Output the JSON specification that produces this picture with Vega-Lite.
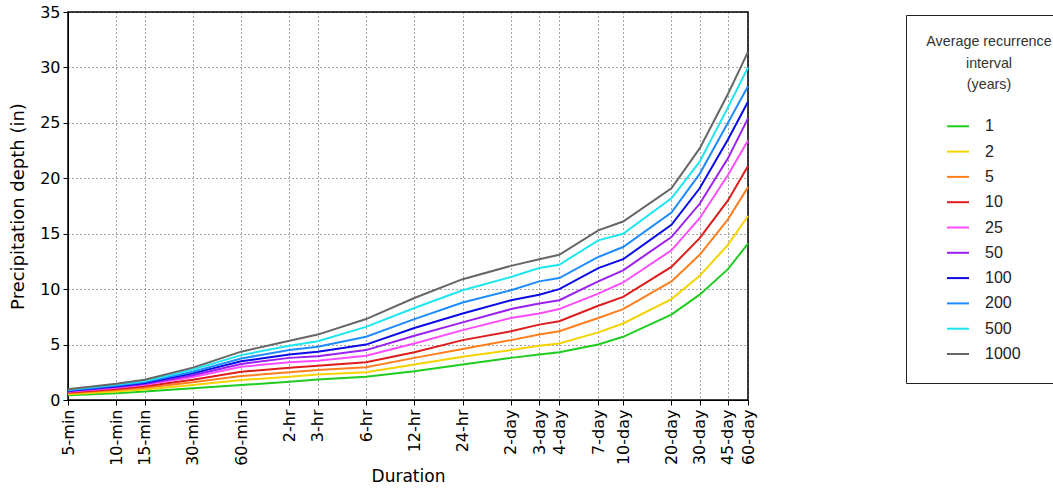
{
  "$schema": "https://vega.github.io/schema/vega-lite/v6.json",
  "width": 680,
  "height": 388,
  "autosize": {"type": "none"},
  "padding": {"left": 68, "top": 12, "right": 305, "bottom": 89},
  "background": "white",
  "config": {
    "view": {"stroke": "#000000", "strokeWidth": 1.5},
    "axis": {
      "labelFont": "DejaVu Sans",
      "titleFont": "DejaVu Sans",
      "labelColor": "#000000",
      "titleColor": "#000000",
      "titleFontWeight": "normal",
      "domainColor": "#000000",
      "tickColor": "#000000",
      "grid": true,
      "gridColor": "#000000",
      "gridDash": [1, 3],
      "gridOpacity": 0.7,
      "gridWidth": 1
    },
    "legend": {
      "labelFont": "Liberation Sans",
      "titleFont": "Liberation Sans"
    }
  },
  "data": {
    "values": [
      {"minutes": 5, "ari": "1", "depth": 0.42}, {"minutes": 5, "ari": "2", "depth": 0.52}, {"minutes": 5, "ari": "5", "depth": 0.60}, {"minutes": 5, "ari": "10", "depth": 0.67}, {"minutes": 5, "ari": "25", "depth": 0.74}, {"minutes": 5, "ari": "50", "depth": 0.78}, {"minutes": 5, "ari": "100", "depth": 0.83}, {"minutes": 5, "ari": "200", "depth": 0.87}, {"minutes": 5, "ari": "500", "depth": 0.93}, {"minutes": 5, "ari": "1000", "depth": 0.98},
      {"minutes": 10, "ari": "1", "depth": 0.62}, {"minutes": 10, "ari": "2", "depth": 0.77}, {"minutes": 10, "ari": "5", "depth": 0.90}, {"minutes": 10, "ari": "10", "depth": 1.00}, {"minutes": 10, "ari": "25", "depth": 1.11}, {"minutes": 10, "ari": "50", "depth": 1.18}, {"minutes": 10, "ari": "100", "depth": 1.25}, {"minutes": 10, "ari": "200", "depth": 1.31}, {"minutes": 10, "ari": "500", "depth": 1.39}, {"minutes": 10, "ari": "1000", "depth": 1.46},
      {"minutes": 15, "ari": "1", "depth": 0.76}, {"minutes": 15, "ari": "2", "depth": 0.95}, {"minutes": 15, "ari": "5", "depth": 1.11}, {"minutes": 15, "ari": "10", "depth": 1.23}, {"minutes": 15, "ari": "25", "depth": 1.37}, {"minutes": 15, "ari": "50", "depth": 1.45}, {"minutes": 15, "ari": "100", "depth": 1.54}, {"minutes": 15, "ari": "200", "depth": 1.62}, {"minutes": 15, "ari": "500", "depth": 1.72}, {"minutes": 15, "ari": "1000", "depth": 1.82},
      {"minutes": 30, "ari": "1", "depth": 1.05}, {"minutes": 30, "ari": "2", "depth": 1.35}, {"minutes": 30, "ari": "5", "depth": 1.60}, {"minutes": 30, "ari": "10", "depth": 1.82}, {"minutes": 30, "ari": "25", "depth": 2.08}, {"minutes": 30, "ari": "50", "depth": 2.23}, {"minutes": 30, "ari": "100", "depth": 2.40}, {"minutes": 30, "ari": "200", "depth": 2.55}, {"minutes": 30, "ari": "500", "depth": 2.75}, {"minutes": 30, "ari": "1000", "depth": 2.92},
      {"minutes": 60, "ari": "1", "depth": 1.35}, {"minutes": 60, "ari": "2", "depth": 1.80}, {"minutes": 60, "ari": "5", "depth": 2.16}, {"minutes": 60, "ari": "10", "depth": 2.55}, {"minutes": 60, "ari": "25", "depth": 3.00}, {"minutes": 60, "ari": "50", "depth": 3.25}, {"minutes": 60, "ari": "100", "depth": 3.50}, {"minutes": 60, "ari": "200", "depth": 3.75}, {"minutes": 60, "ari": "500", "depth": 4.05}, {"minutes": 60, "ari": "1000", "depth": 4.36},
      {"minutes": 120, "ari": "1", "depth": 1.65}, {"minutes": 120, "ari": "2", "depth": 2.10}, {"minutes": 120, "ari": "5", "depth": 2.50}, {"minutes": 120, "ari": "10", "depth": 2.90}, {"minutes": 120, "ari": "25", "depth": 3.40}, {"minutes": 120, "ari": "50", "depth": 3.80}, {"minutes": 120, "ari": "100", "depth": 4.10}, {"minutes": 120, "ari": "200", "depth": 4.50}, {"minutes": 120, "ari": "500", "depth": 4.90}, {"minutes": 120, "ari": "1000", "depth": 5.35},
      {"minutes": 180, "ari": "1", "depth": 1.85}, {"minutes": 180, "ari": "2", "depth": 2.30}, {"minutes": 180, "ari": "5", "depth": 2.70}, {"minutes": 180, "ari": "10", "depth": 3.10}, {"minutes": 180, "ari": "25", "depth": 3.55}, {"minutes": 180, "ari": "50", "depth": 3.95}, {"minutes": 180, "ari": "100", "depth": 4.35}, {"minutes": 180, "ari": "200", "depth": 4.80}, {"minutes": 180, "ari": "500", "depth": 5.30}, {"minutes": 180, "ari": "1000", "depth": 5.90},
      {"minutes": 360, "ari": "1", "depth": 2.10}, {"minutes": 360, "ari": "2", "depth": 2.50}, {"minutes": 360, "ari": "5", "depth": 2.95}, {"minutes": 360, "ari": "10", "depth": 3.40}, {"minutes": 360, "ari": "25", "depth": 4.00}, {"minutes": 360, "ari": "50", "depth": 4.50}, {"minutes": 360, "ari": "100", "depth": 5.00}, {"minutes": 360, "ari": "200", "depth": 5.70}, {"minutes": 360, "ari": "500", "depth": 6.60}, {"minutes": 360, "ari": "1000", "depth": 7.30},
      {"minutes": 720, "ari": "1", "depth": 2.60}, {"minutes": 720, "ari": "2", "depth": 3.20}, {"minutes": 720, "ari": "5", "depth": 3.80}, {"minutes": 720, "ari": "10", "depth": 4.30}, {"minutes": 720, "ari": "25", "depth": 5.10}, {"minutes": 720, "ari": "50", "depth": 5.80}, {"minutes": 720, "ari": "100", "depth": 6.50}, {"minutes": 720, "ari": "200", "depth": 7.30}, {"minutes": 720, "ari": "500", "depth": 8.30}, {"minutes": 720, "ari": "1000", "depth": 9.20},
      {"minutes": 1440, "ari": "1", "depth": 3.20}, {"minutes": 1440, "ari": "2", "depth": 3.90}, {"minutes": 1440, "ari": "5", "depth": 4.60}, {"minutes": 1440, "ari": "10", "depth": 5.40}, {"minutes": 1440, "ari": "25", "depth": 6.30}, {"minutes": 1440, "ari": "50", "depth": 7.00}, {"minutes": 1440, "ari": "100", "depth": 7.80}, {"minutes": 1440, "ari": "200", "depth": 8.80}, {"minutes": 1440, "ari": "500", "depth": 9.90}, {"minutes": 1440, "ari": "1000", "depth": 10.90},
      {"minutes": 2880, "ari": "1", "depth": 3.80}, {"minutes": 2880, "ari": "2", "depth": 4.50}, {"minutes": 2880, "ari": "5", "depth": 5.40}, {"minutes": 2880, "ari": "10", "depth": 6.20}, {"minutes": 2880, "ari": "25", "depth": 7.40}, {"minutes": 2880, "ari": "50", "depth": 8.20}, {"minutes": 2880, "ari": "100", "depth": 9.00}, {"minutes": 2880, "ari": "200", "depth": 9.90}, {"minutes": 2880, "ari": "500", "depth": 11.10}, {"minutes": 2880, "ari": "1000", "depth": 12.10},
      {"minutes": 4320, "ari": "1", "depth": 4.10}, {"minutes": 4320, "ari": "2", "depth": 4.90}, {"minutes": 4320, "ari": "5", "depth": 5.90}, {"minutes": 4320, "ari": "10", "depth": 6.80}, {"minutes": 4320, "ari": "25", "depth": 7.80}, {"minutes": 4320, "ari": "50", "depth": 8.70}, {"minutes": 4320, "ari": "100", "depth": 9.50}, {"minutes": 4320, "ari": "200", "depth": 10.70}, {"minutes": 4320, "ari": "500", "depth": 11.90}, {"minutes": 4320, "ari": "1000", "depth": 12.70},
      {"minutes": 5760, "ari": "1", "depth": 4.30}, {"minutes": 5760, "ari": "2", "depth": 5.10}, {"minutes": 5760, "ari": "5", "depth": 6.20}, {"minutes": 5760, "ari": "10", "depth": 7.10}, {"minutes": 5760, "ari": "25", "depth": 8.20}, {"minutes": 5760, "ari": "50", "depth": 9.00}, {"minutes": 5760, "ari": "100", "depth": 10.00}, {"minutes": 5760, "ari": "200", "depth": 11.00}, {"minutes": 5760, "ari": "500", "depth": 12.20}, {"minutes": 5760, "ari": "1000", "depth": 13.10},
      {"minutes": 10080, "ari": "1", "depth": 5.00}, {"minutes": 10080, "ari": "2", "depth": 6.10}, {"minutes": 10080, "ari": "5", "depth": 7.40}, {"minutes": 10080, "ari": "10", "depth": 8.50}, {"minutes": 10080, "ari": "25", "depth": 9.60}, {"minutes": 10080, "ari": "50", "depth": 10.70}, {"minutes": 10080, "ari": "100", "depth": 11.90}, {"minutes": 10080, "ari": "200", "depth": 12.90}, {"minutes": 10080, "ari": "500", "depth": 14.40}, {"minutes": 10080, "ari": "1000", "depth": 15.30},
      {"minutes": 14400, "ari": "1", "depth": 5.70}, {"minutes": 14400, "ari": "2", "depth": 6.90}, {"minutes": 14400, "ari": "5", "depth": 8.20}, {"minutes": 14400, "ari": "10", "depth": 9.30}, {"minutes": 14400, "ari": "25", "depth": 10.60}, {"minutes": 14400, "ari": "50", "depth": 11.70}, {"minutes": 14400, "ari": "100", "depth": 12.70}, {"minutes": 14400, "ari": "200", "depth": 13.80}, {"minutes": 14400, "ari": "500", "depth": 15.00}, {"minutes": 14400, "ari": "1000", "depth": 16.10},
      {"minutes": 28800, "ari": "1", "depth": 7.70}, {"minutes": 28800, "ari": "2", "depth": 9.10}, {"minutes": 28800, "ari": "5", "depth": 10.70}, {"minutes": 28800, "ari": "10", "depth": 12.00}, {"minutes": 28800, "ari": "25", "depth": 13.50}, {"minutes": 28800, "ari": "50", "depth": 14.70}, {"minutes": 28800, "ari": "100", "depth": 15.80}, {"minutes": 28800, "ari": "200", "depth": 16.90}, {"minutes": 28800, "ari": "500", "depth": 18.20}, {"minutes": 28800, "ari": "1000", "depth": 19.10},
      {"minutes": 43200, "ari": "1", "depth": 9.50}, {"minutes": 43200, "ari": "2", "depth": 11.20}, {"minutes": 43200, "ari": "5", "depth": 13.10}, {"minutes": 43200, "ari": "10", "depth": 14.60}, {"minutes": 43200, "ari": "25", "depth": 16.40}, {"minutes": 43200, "ari": "50", "depth": 17.70}, {"minutes": 43200, "ari": "100", "depth": 19.10}, {"minutes": 43200, "ari": "200", "depth": 20.40}, {"minutes": 43200, "ari": "500", "depth": 21.50}, {"minutes": 43200, "ari": "1000", "depth": 22.70},
      {"minutes": 64800, "ari": "1", "depth": 11.80}, {"minutes": 64800, "ari": "2", "depth": 14.00}, {"minutes": 64800, "ari": "5", "depth": 16.30}, {"minutes": 64800, "ari": "10", "depth": 18.00}, {"minutes": 64800, "ari": "25", "depth": 20.30}, {"minutes": 64800, "ari": "50", "depth": 21.80}, {"minutes": 64800, "ari": "100", "depth": 23.50}, {"minutes": 64800, "ari": "200", "depth": 25.00}, {"minutes": 64800, "ari": "500", "depth": 26.40}, {"minutes": 64800, "ari": "1000", "depth": 27.60},
      {"minutes": 86400, "ari": "1", "depth": 14.10}, {"minutes": 86400, "ari": "2", "depth": 16.60}, {"minutes": 86400, "ari": "5", "depth": 19.20}, {"minutes": 86400, "ari": "10", "depth": 21.10}, {"minutes": 86400, "ari": "25", "depth": 23.40}, {"minutes": 86400, "ari": "50", "depth": 25.40}, {"minutes": 86400, "ari": "100", "depth": 26.90}, {"minutes": 86400, "ari": "200", "depth": 28.30}, {"minutes": 86400, "ari": "500", "depth": 30.00}, {"minutes": 86400, "ari": "1000", "depth": 31.40}
    ]
  },
  "mark": {"type": "line", "strokeWidth": 2},
  "encoding": {
    "x": {
      "field": "minutes",
      "type": "quantitative",
      "scale": {"type": "log", "domain": [5, 86400], "nice": false},
      "axis": {
        "values": [5, 10, 15, 30, 60, 120, 180, 360, 720, 1440, 2880, 4320, 5760, 10080, 14400, 28800, 43200, 64800, 86400],
        "labelExpr": "['5-min','10-min','15-min','30-min','60-min','2-hr','3-hr','6-hr','12-hr','24-hr','2-day','3-day','4-day','7-day','10-day','20-day','30-day','45-day','60-day'][indexof([5,10,15,30,60,120,180,360,720,1440,2880,4320,5760,10080,14400,28800,43200,64800,86400], datum.value)]",
        "labelAngle": -90,
        "labelFontSize": 16,
        "labelPadding": 4,
        "labelOverlap": false,
        "labelFlush": false,
        "tickSize": 5,
        "title": "Duration",
        "titleFontSize": 17,
        "titlePadding": 3
      }
    },
    "y": {
      "field": "depth",
      "type": "quantitative",
      "scale": {"domain": [0, 35], "nice": false},
      "axis": {
        "values": [0, 5, 10, 15, 20, 25, 30, 35],
        "labelFontSize": 16,
        "labelPadding": 3,
        "tickSize": 5,
        "title": "Precipitation depth (in)",
        "titleFontSize": 18,
        "titlePadding": 12
      }
    },
    "color": {
      "field": "ari",
      "type": "nominal",
      "scale": {
        "domain": ["1", "2", "5", "10", "25", "50", "100", "200", "500", "1000"],
        "range": ["#1fcc1f", "#f5d300", "#ff7f1e", "#dd1c1c", "#ff4cff", "#9b1ff0", "#0a0ae8", "#1e8cff", "#1ee6f0", "#666666"]
      },
      "legend": {
        "orient": "none",
        "legendX": 838,
        "legendY": 3,
        "title": ["Average recurrence", "interval", "(years)"],
        "titleFontSize": 14.3,
        "titleFontWeight": "normal",
        "titleColor": "#333333",
        "titleAnchor": "middle",
        "titleAlign": "center",
        "titleLineHeight": 21.5,
        "titlePadding": 22,
        "labelFontSize": 16,
        "labelColor": "#222222",
        "symbolType": "stroke",
        "symbolStrokeWidth": 2,
        "symbolSize": 484,
        "symbolOffset": -12,
        "labelOffset": 15,
        "rowPadding": 5.3,
        "padding": 20,
        "strokeColor": "#222222",
        "fillColor": "white"
      }
    }
  }
}
